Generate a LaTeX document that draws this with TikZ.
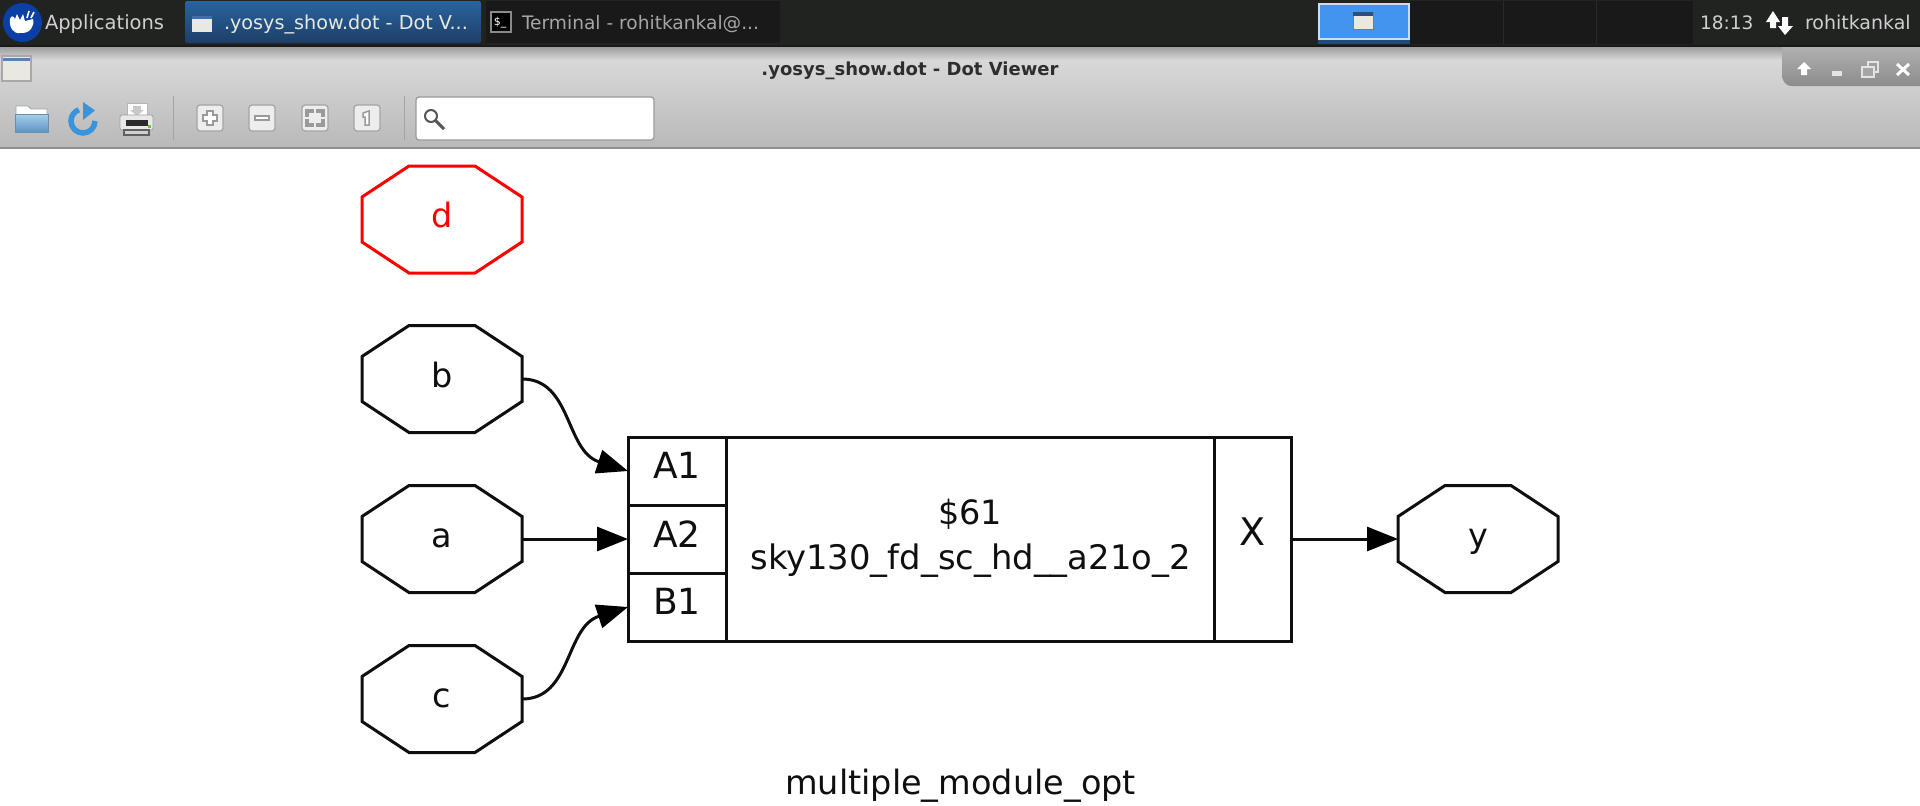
\documentclass[tikz,border=0pt]{standalone}
\usepackage{fontspec}
\setmainfont{DejaVu Sans}
\usetikzlibrary{arrows.meta}
\newcommand{\dc}[1]{\definecolor{c#1}{HTML}{#1}}
\dc{0B3FA6}\dc{2A639F}\dc{1D3F68}\dc{3E6FA8}\dc{8A8A8A}\dc{1E4C78}\dc{C9DEF5}\dc{6F7C8C}\dc{2E4F7A}\dc{2A2A2A}
\dc{9E9E9E}\dc{D8D8D8}\dc{B9B9B9}\dc{8E8E8E}\dc{A8A8A8}\dc{5C80B4}\dc{2E2E2E}\dc{B0B0B0}\dc{8C8C8C}\dc{E4E4E4}\dc{A6A6A6}
\dc{9AA7B0}\dc{A8CDE8}\dc{5C95C4}\dc{6A8FAE}\dc{3A94DC}\dc{B5B5B5}\dc{C8C8C8}\dc{E8E8E8}\dc{A0A0A0}\dc{2B2B2B}\dc{70C040}\dc{D0D0D0}\dc{606060}
\dc{A4A4A4}\dc{9A9A9A}\dc{555555}\dc{EDEDED}\dc{E9E9E0}
\definecolor{panelbg}{HTML}{212321}
\definecolor{paneltext}{HTML}{CFCFCF}
\definecolor{dimtext}{HTML}{A6A6A6}
\definecolor{cellbg}{HTML}{191919}
\definecolor{wsblue}{HTML}{4394EE}
\definecolor{inkline}{HTML}{0F0F0F}
\definecolor{btnline}{HTML}{A4A4A4}
\definecolor{glyph}{HTML}{9A9A9A}
\newcommand{\px}[1]{\fontsize{#1}{#1}\selectfont}
\tikzset{
  x=1pt,y=-1pt,
  every node/.style={inner sep=0,outer sep=0},
  dlabel/.style={font=\px{33.5},text=inkline,anchor=base},
  portlabel/.style={font=\px{36},text=inkline,anchor=base},
  cellbox/.style={draw=inkline,line width=3,minimum width=#1,anchor=north west},
  cellh/.style={minimum height=#1},
  octanode/.style={minimum width=160,minimum height=107,text height=24,text depth=8,font=\px{33.5},align=center},
  octaline/.style={line width=3,line join=miter},
  wire/.style={line width=3,draw=inkline,-{Triangle[length=31,width=24,color=black]}},
  toolbtn/.style={rounded corners=3,fill=cEDEDED,draw=btnline,line width=1.2},
  glyphline/.style={draw=glyph,line width=1.5},
  paneltxt/.style={font=\px{18.5},text=paneltext,anchor=base west},
}
\newcommand{\octa}[6]{%
  \node[octanode,text=#6] (#1) at (#2,#3) {#5};
  \draw[octaline,draw=#4] (#1.center) ++(-33,-53.5) -- ++(66,0) -- ++(47,31) -- ++(0,45) -- ++(-47,31) -- ++(-66,0) -- ++(-47,-31) -- ++(0,-45) -- cycle;
}
\begin{document}
\begin{tikzpicture}
\useasboundingbox (0,0) rectangle (1920,806);
\fill[white] (0,0) rectangle (1920,806);
% top panel
\fill[panelbg] (0,0) rectangle (1920,46);
\fill[black!90] (0,45) rectangle (1920,47);
% application button
\fill[c0B3FA6] (22.5,22.5) circle (19.5);
\fill[white] (10,19) .. controls (11,15) and (14,16) .. (15,19) -- (17,14) -- (20,20) -- (23,14) -- (25,21) -- (33,19) .. controls (35,26) and (30,34) .. (20,33) .. controls (13,34) and (9,27) .. cycle;
\draw[white,line width=1.6] (27,18) -- (29,11) (31,18) -- (34,12);
\node[paneltxt,font=\px{19.5}] (apps) at (45,29) {Applications};
% task buttons
\shade[rounded corners=2,top color=c2A639F,bottom color=c1D3F68] (185,1) rectangle (481,43);
\fill[cE9E9E0] (192,16) rectangle (212,32);
\fill[c3E6FA8] (192,16) rectangle (212,19);
\node[paneltxt,font=\px{19.2},text=cE9E9E0] (task1) at (224,29) {.yosys\_show.dot - Dot V...};
\fill[cellbg] (486,1) rectangle (780,43);
\draw[c8A8A8A,fill=black,line width=1.2] (491,12) rectangle (511,32);
\node[font=\px{11},text=white,anchor=base] (termglyph) at (500,25) {\$\_};
\node[paneltxt,font=\px{18.6},text=dimtext] (task2) at (522,29) {Terminal - rohitkankal@...};
% workspaces
\fill[c1E4C78] (1318,3) rectangle (1410,44);
\filldraw[fill=wsblue,draw=cC9DEF5,line width=1.4] (1319,4) rectangle (1409,39);
\filldraw[fill=cE9E9E0,draw=c6F7C8C,line width=1] (1353,13) rectangle (1373,29);
\fill[c2E4F7A] (1353,12) rectangle (1373,16);
\fill[cellbg] (1410,1) rectangle (1693,44);
\draw[c2A2A2A,line width=1] (1503,1) -- (1503,44) (1596,1) -- (1596,44);
\node[paneltxt] (clock) at (1700,29) {18:13};
\fill[white] (1773,11) -- (1780,22) -- (1776,22) -- (1776,28) -- (1770,28) -- (1770,22) -- (1766,22) -- cycle;
\fill[white] (1782,17) -- (1788,17) -- (1788,26) -- (1793,26) -- (1785,35) -- (1778,26) -- (1782,26) -- cycle;
\node[paneltxt,font=\px{19}] (user) at (1805,29) {rohitkankal};
% window title bar and toolbar
\shade[top color=c9E9E9E,bottom color=cD8D8D8] (0,47) rectangle (1920,60);
\shade[top color=cD8D8D8,bottom color=cB9B9B9] (0,60) rectangle (1920,147);
\fill[c8E8E8E] (0,147) rectangle (1920,149);
\filldraw[fill=cE9E9E0,draw=cA8A8A8,line width=1.2] (2,56) rectangle (31,81);
\fill[c5C80B4] (3,58) rectangle (30,61);
\node[font=\bfseries\px{18},text=c2E2E2E] (title) at (910,70.5) {.yosys\_show.dot - Dot Viewer};
% window buttons
\shade[top color=cB0B0B0,bottom color=c8C8C8C] (1782,47) -- (1920,47) -- (1920,86) -- (1792,86) .. controls (1785,86) and (1782,80) .. (1782,75) -- cycle;
\fill[white] (1804,62) -- (1811,69) -- (1807,69) -- (1807,75) -- (1801,75) -- (1801,69) -- (1797,69) -- cycle;
\fill[cE4E4E4] (1832,71) rectangle (1842,76);
\draw[cE4E4E4,line width=1.6] (1868,62) rectangle (1878,72);
\filldraw[fill=cA6A6A6,draw=cE4E4E4,line width=1.6] (1862,67) rectangle (1874,77);
\draw[white,line width=3] (1897,64) -- (1909,75) (1909,64) -- (1897,75);
% toolbar icons: open
\filldraw[fill=white,draw=c9AA7B0,line width=.8] (16,106) -- (28,106) -- (31,109) -- (47,109) -- (47,120) -- (16,120) -- cycle;
\shade[top color=cA8CDE8,bottom color=c5C95C4,draw=c6A8FAE] (15,114) rectangle (48,132);
% reload
\draw[c3A94DC,line width=5.5] (95,121) arc[start angle=0,end angle=250,radius=12];
\fill[c3A94DC] (83,102) -- (95,110.5) -- (83,120) -- cycle;
% print
\filldraw[fill=white,draw=cB5B5B5,line width=.8] (127,103) rectangle (147,116);
\fill[cC8C8C8] (133,106) rectangle (141,110);
\fill[cC8C8C8] (130,110) -- (144,110) -- (137,116) -- cycle;
\filldraw[fill=cE8E8E8,draw=cA0A0A0,line width=.8,rounded corners=2] (120,115) rectangle (153,130);
\fill[c2B2B2B] (126,120) rectangle (148,126);
\fill[c70C040] (148,125) rectangle (151,128);
\filldraw[fill=cD0D0D0,draw=c606060,line width=1.2] (124,130) rectangle (149,135);
% separators
\draw[cA4A4A4,line width=1] (173,96) -- (173,140) (404,96) -- (404,140);
% zoom in
\draw[toolbtn] (197,105) rectangle (223,131);
\draw[glyphline,fill=white] (207,111) -- (213,111) -- (213,115) -- (217,115) -- (217,121) -- (213,121) -- (213,125) -- (207,125) -- (207,121) -- (203,121) -- (203,115) -- (207,115) -- cycle;
% zoom out
\draw[toolbtn] (249,105) rectangle (275,131);
\draw[glyphline,fill=white] (255,116) rectangle (269,120);
% fit
\draw[toolbtn] (302,105) rectangle (328,131);
\draw[glyphline,line width=1.2] (306,116) -- (306,110) -- (313,110) -- (313,112) -- (308,112) -- (308,116) -- cycle
  (324,116) -- (324,110) -- (317,110) -- (317,112) -- (322,112) -- (322,116) -- cycle
  (306,120) -- (306,126) -- (313,126) -- (313,124) -- (308,124) -- (308,120) -- cycle
  (324,120) -- (324,126) -- (317,126) -- (317,124) -- (322,124) -- (322,120) -- cycle;
% actual size
\draw[toolbtn] (354,105) rectangle (380,131);
\draw[glyphline,fill=white] (363,113) -- (369,111) -- (369,125) -- (365,125) -- (365,117) -- (363,117) -- cycle;
% search entry
\draw[rounded corners=3,fill=white,draw=c9A9A9A,line width=1.2] (416,97) rectangle (654,140);
\draw[c555555,line width=2] (431,116) circle (6);
\draw[c555555,line width=3] (435.5,120.5) -- (444,129);
% diagram: ports
\octa{d}{442}{219.5}{red}{d}{red}
\octa{b}{442}{379}{inkline}{b}{inkline}
\octa{a}{442}{539}{inkline}{a}{inkline}
\octa{c}{442}{699}{inkline}{c}{inkline}
\octa{y}{1478}{539}{inkline}{y}{inkline}
% diagram: cell
\node[cellbox=98,cellh=68] (A1) at (628,437) {};
\node[cellbox=98,cellh=68] (A2) at (628,505) {};
\node[cellbox=98,cellh=68] (B1) at (628,573) {};
\node[cellbox=488,cellh=204] (body) at (726,437) {};
\node[cellbox=77,cellh=204] (Xp) at (1214,437) {};
\node[portlabel] (A1t) at (677,478) {A1};
\node[portlabel] (A2t) at (677,547) {A2};
\node[portlabel] (B1t) at (677,614) {B1};
\node[portlabel,font=\px{38}] (Xt) at (1253,545) {X};
\node[dlabel] (cellid) at (970,524) {\$61};
\node[dlabel,font=\px{33.8}] (celltype) at (970.5,569) {sky130\_fd\_sc\_hd\_\_a21o\_2};
\node[dlabel] (modname) at (960.5,794) {multiple\_module\_opt};
% connectors
\draw[wire] (b.east) .. controls (572,379) and (565,451) .. (A1.west);
\draw[wire] (a.east) -- (A2.west);
\draw[wire] (c.east) .. controls (572,699) and (565,627) .. (B1.west);
\draw[wire] (Xp.east) -- (y.west);
\end{tikzpicture}
\end{document}
